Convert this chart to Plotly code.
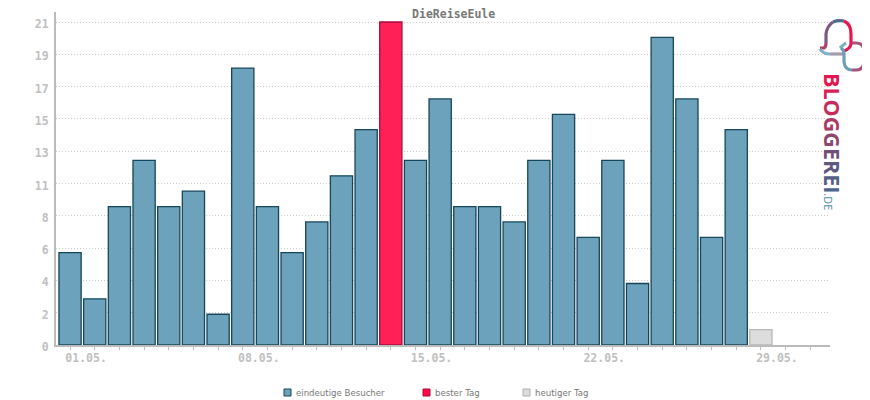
import plotly.graph_objects as go

# daily values, May
days = list(range(1, 32))
visitors = [6, 3, 9, 12, 9, 10, 2, 18, 9, 6, 8, 11, 14, None, 12, 16, 9, 9, 8, 12, 15, 7, 12, 4, 20, 16, 7, 14]
best_day = [14]
best_value = [21]
today = [29]
today_value = [1]

x_labels = {1: '01.05.', 8: '08.05.', 15: '15.05.', 22: '22.05.', 29: '29.05.'}
y_positions = [0, 2.1, 4.2, 6.3, 8.4, 10.5, 12.6, 14.7, 16.8, 18.9, 21]
y_labels = ['0', '2', '4', '6', '8', '11', '13', '15', '17', '19', '21']

legend_names = ['eindeutige Besucher', 'bester Tag', 'heutiger Tag']
legend_fill = ['#6ca2bb', '#ff0a45', '#dddddd']
legend_edge = ['#15465a', '#a80a3c', '#b0b0b0']
legend_left = [284, 423, 523]

logo_letters = ['B', 'L', 'O', 'G', 'G', 'E', 'R', 'E', 'I']
logo_colors = ['#e3164f', '#d91f55', '#c72b5c', '#a93b66', '#8f466f', '#6f5078', '#5f5a80', '#555f85', '#4d6488']

mono = 'DejaVu Sans Mono'


# page pixels to paper fractions (plot area is 56..830 by 12..345 on the page)
def px(v):
    return (v - 56) / 774


def py(v):
    return (345 - v) / 333


def to_paper(path):
    out = []
    is_x = True
    for t in path.split():
        if t.isalpha():
            out.append(t)
            is_x = True
        else:
            out.append(str(px(float(t))) if is_x else str(py(float(t))))
            is_x = not is_x
    return ' '.join(out)


fig = go.Figure()
fig.add_bar(x=days[:len(visitors)], y=visitors, name=legend_names[0], width=0.9,
            marker=dict(color='#6ca2bb', line=dict(color='#15465a', width=1.3)))
fig.add_bar(x=best_day, y=best_value, name=legend_names[1], width=0.9,
            marker=dict(color='#ff2055', line=dict(color='#a80a3c', width=1.3)))
fig.add_bar(x=today, y=today_value, name=legend_names[2], width=0.9,
            marker=dict(color='#dddddd', line=dict(color='#b8b8b8', width=1.3)))

# the page body adds 8px around the figure, hence 862x392
fig.update_layout(
    width=862, height=392,
    margin=dict(l=48, r=40, t=4, b=55, autoexpand=False),
    plot_bgcolor='white', paper_bgcolor='white',
    barmode='overlay',
    showlegend=False,
    title=dict(text='<b>DieReiseEule</b>', x=0.517, xanchor='center', y=0.985, yanchor='middle',
               font=dict(family=mono, size=11.5, color='#777777')),
    xaxis=dict(range=[0.43, 31.8], tickmode='array', tickvals=days,
               ticktext=[x_labels.get(d, '') for d in days],
               ticks='outside', ticklen=3, tickcolor='#bbbbbb', tickwidth=1,
               ticklabelshift=16, ticklabelstandoff=-2,
               showgrid=False, zeroline=False, showline=True, linecolor='#bbbbbb', linewidth=2,
               tickfont=dict(family=mono, size=11.5, color='#c0c0c0', weight='bold')),
    yaxis=dict(range=[0, 21.65], tickmode='array', tickvals=y_positions, ticktext=y_labels,
               ticks='', showgrid=True, gridcolor='#cccccc', griddash='1px,2px', gridwidth=1,
               zeroline=False, showline=True, linecolor='#bbbbbb', linewidth=2,
               ticklabelstandoff=3, ticklabelshift=2,
               tickfont=dict(family=mono, size=11.5, color='#c0c0c0', weight='bold')),
)

# logo wordmark
fig.add_annotation(
    text=''.join(f'<span style="color:{c}">{l}</span>' for l, c in zip(logo_letters, logo_colors))
         + '<span style="font-size:11px;font-weight:normal;color:#4f8cab">.DE</span>',
    xref='paper', yref='paper', x=1.0, xshift=2.5, y=0, yshift=274, yanchor='top', xanchor='center',
    textangle=90, showarrow=False, font=dict(family='Open Sans', size=21.5, weight='bold'))

# logo strokes
logo_paths = [
    ('M 820 48 L 824 48 Q 826 47 826 43', '#b03f68'),
    ('M 826 43 L 826 34 Q 827 26 833 22', '#7d5a84'),
    ('M 833 22 Q 838 20 844 21', '#4f6a90'),
    ('M 844 21 Q 851 24 851 34 L 851 44 Q 850 49 844 51', '#e8174f'),
    ('M 820 49 Q 823 54 830 54', '#7fb0c6'),
    ('M 830 54 L 843 54', '#a59ab0'),
    ('M 840 48 Q 843 45 846 43', '#7fb0c6'),
    ('M 841 48 Q 844 50 844 54 L 844 62 Q 845 70 852 70', '#6f9db5'),
    ('M 852 70 L 856 70 Q 864 70 864 61', '#a5557d'),
    ('M 864 61 L 864 52 Q 864 43 856 43 L 852 43', '#a5557d'),
]
for p, c in logo_paths:
    fig.add_shape(type='path', xref='paper', yref='paper', path=to_paper(p),
                  line=dict(color=c, width=3.2), layer='above')

# legend row
for name, fill, edge, left in zip(legend_names, legend_fill, legend_edge, legend_left):
    fig.add_shape(type='rect', xref='paper', yref='paper', x0=px(left), x1=px(left + 7),
                  y0=py(396), y1=py(389), fillcolor=fill, line=dict(color=edge, width=1))
    fig.add_annotation(text=name, xref='paper', yref='paper', x=px(left + 9.5), y=py(392.5),
                       xanchor='left', yanchor='middle', showarrow=False,
                       font=dict(family='DejaVu Sans', size=8.6, color='#777777'))

fig.write_html("out.html")
